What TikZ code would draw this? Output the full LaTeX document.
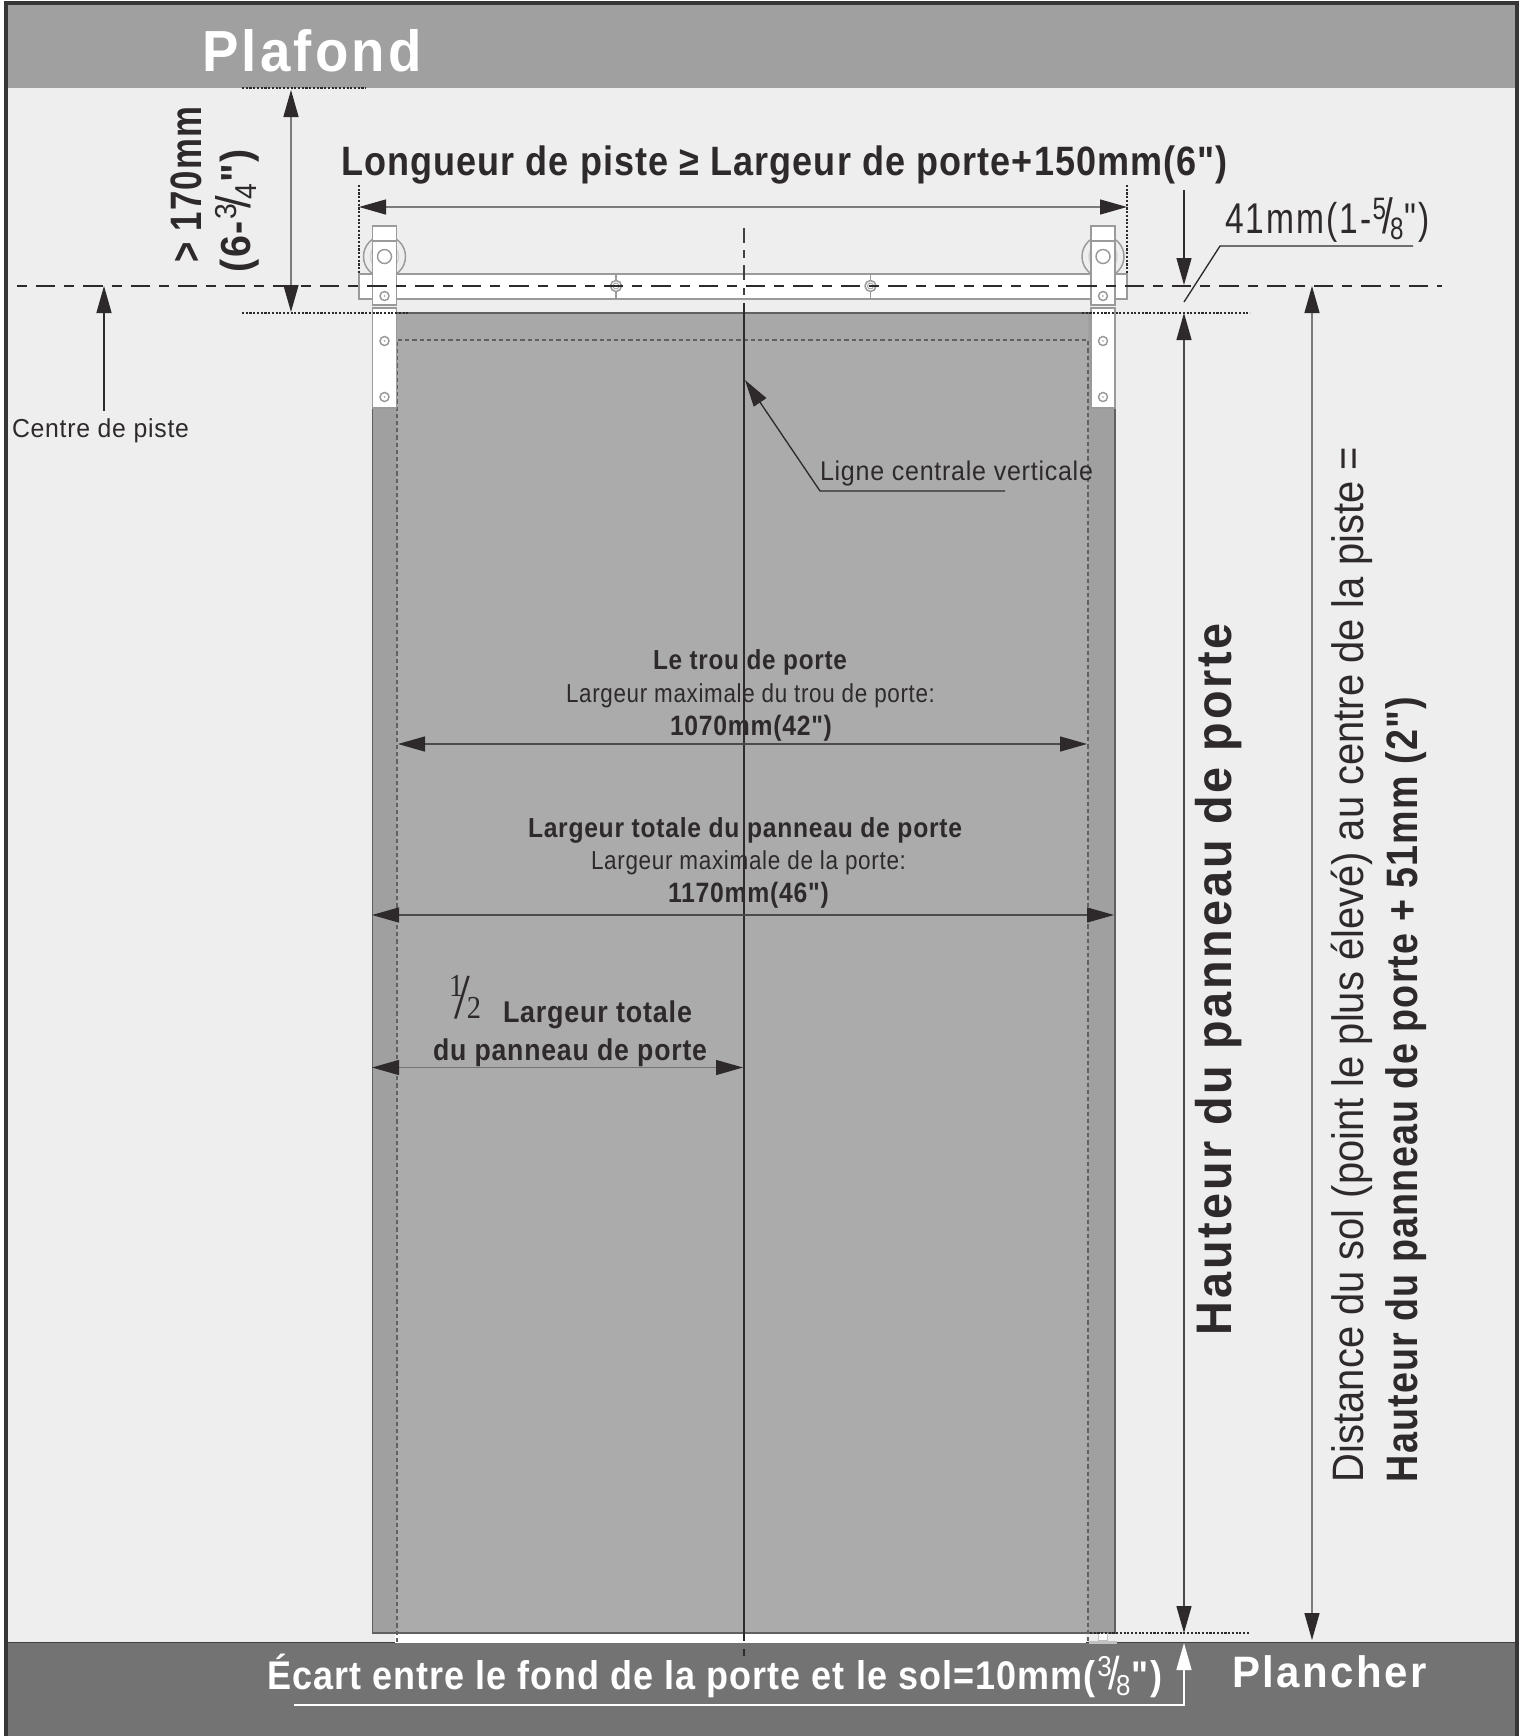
\documentclass[tikz,border=0pt]{standalone}
\usepackage{graphicx}
\usepackage{fontspec}
\newfontfamily\mainf[LetterSpace=3]{Liberation Sans}
\newfontfamily\widef[LetterSpace=6]{Liberation Sans}
\newfontfamily\plainf{Liberation Sans}
\newfontfamily\serifnum{Liberation Serif}
\usetikzlibrary{arrows.meta}
\definecolor{ink}{HTML}{2E2A2B}
\definecolor{midline}{HTML}{7D7A7A}
\definecolor{hw}{HTML}{9A9A9A}
\definecolor{room}{HTML}{EEEEEE}
\definecolor{ceil}{HTML}{A0A0A0}
\definecolor{floorc}{HTML}{737373}
\definecolor{doorc}{HTML}{ABABAB}
\definecolor{doorside}{HTML}{A0A0A0}
\newcommand\fsz[1]{\pgfmathsetmacro\fszv{#1*0.75}\fontsize{\fszv pt}{\fszv pt}\mainf\selectfont}
\newcommand\fitw[2]{\setbox0=\hbox{#2}\pgfmathsetmacro\fitr{#1*0.75/\the\wd0}\scalebox{\fitr}[1]{\copy0}}
\newcommand\frc[2]{{\mdseries\kern.04em\raisebox{.32em}{\scalebox{.72}{#1}}\kern-.1em\scalebox{1.15}{/}\kern-.1em\raisebox{-.16em}{\scalebox{.72}{#2}}\kern.04em}}
\newcommand\tx[6][]{\node[txt,#1] (#2) at #3 {\fsz{#4}\fitw{#5}{#6}};}
\tikzset{
  txt/.style={inner sep=0pt,outer sep=0pt,anchor=base west,text=ink},
  dim/.style={line width=1pt,draw=#1,{Triangle[length=20.25pt,width=11.25pt,color=ink]}-{Triangle[length=20.25pt,width=11.25pt,color=ink]}},
  dimend/.style={line width=1pt,draw=#1,-{Triangle[length=20.25pt,width=11.25pt,color=ink]}},
  guide/.style={ink,line width=1.1pt,dash pattern=on 1.6pt off 1.2pt},
  innerdash/.style={draw=black!62,line width=1.2pt,dash pattern=on 3.2pt off 2.2pt},
  hwline/.style={draw=hw,line width=1.1pt},
  bolt/.style={draw=hw,line width=1.1pt,fill=white}
}
\begin{document}
\begin{tikzpicture}[x=0.75pt,y=-0.75pt]
\clip (0,0) rectangle (1521,1736);
% room, ceiling, floor
\fill[white] (0,0) rectangle (1521,1736);
\fill[room] (6,3) rectangle (1517,1740);
\fill[ceil] (6,3) rectangle (1517,88);
\fill[floorc] (6,1643) rectangle (1517,1740);
\draw[ink!90,line width=1.2pt] (6,1642.5) -- (395,1642.5);
\draw[ink!90,line width=1.2pt] (1086,1642.5) -- (1517,1642.5);
\draw[ink!95,line width=3pt] (6,3) rectangle (1517,1745);
% door
\fill[white] (395,1633) rectangle (1086,1642.5);
\fill[doorside] (372.5,313) rectangle (1115,1633);
\fill[doorc!98!black] (397,313) rectangle (1088,340);
\fill[doorc] (397,340) rectangle (1088,1633);
\draw[ink!75,line width=1pt] (372.5,408) -- (372.5,1633) -- (1115,1633) -- (1115,313) -- (372.5,313);
% floor guide
\fill[white,draw=hw!60,line width=.6pt] (1098,1633) rectangle (1107,1640);
\fill[hw!60] (1089,1641) rectangle (1117,1643.5);
% inner opening
\draw[innerdash] (396.7,1642) -- (396.7,340) -- (1088,340) -- (1088,1642);
% wheels
\foreach \c in {384.5,1103}{
  \draw[hwline,fill=room] (\c,256.5) circle[radius=21];
  \draw[draw=hw!45,line width=1pt] (\c,256.5) circle[radius=14];
}
% track
\draw[hwline,fill=white] (359,274) rectangle (1127,299);
\foreach \c in {616,870.5}{
  \draw[hw,line width=.8pt] (\c,274) -- (\c,299);
}
% hangers
\foreach \l/\r/\c in {372.5/396.5/384.5,1091/1115/1103}{
  \draw[hwline,fill=white] (\l,226) rectangle (\r,305);
  \draw[hwline] (\l,241) -- (\r,241);
  \draw[hwline,fill=white] (\l,308) rectangle (\r,408);
  \draw[bolt] (\c,256.5) circle[radius=7];
  \foreach \y in {296,341,397}{
    \draw[bolt] (\c,\y) circle[radius=4.5];
    \fill[hw] (\c,\y) circle[radius=.8];
  }
}
\foreach \c in {616,870.5}{
  \draw[bolt] (\c,286) circle[radius=5.5];
  \draw[hw,line width=.6pt] (\c,286) circle[radius=3];
}
% centre lines
\coordinate (hL) at (17,286);
\coordinate (hR) at (1442,286);
\draw[ink,line width=1.2pt,dash pattern=on 7.5pt off 6.7pt on 14.5pt off 6.8pt] (hL) -- (hR);
\coordinate (vA) at (743.7,228);
\coordinate (vB) at (743.7,303);
\coordinate (vC) at (743.7,1641);
\coordinate (vD) at (743.7,1649);
\coordinate (vE) at (743.7,1656);
\draw[ink!90,line width=1.3pt,dash pattern=on 11.25pt off 5.6pt on 5.6pt off 5.6pt] (vA) -- (vB);
\draw[ink,line width=1.3pt] (vB) -- (vC);
\draw[ink,line width=1.3pt] (vD) -- (vE);
% dotted guides
\coordinate (gA1) at (359,185); \coordinate (gA2) at (359,274);
\coordinate (gB1) at (1127,185); \coordinate (gB2) at (1127,274);
\draw[guide] (gA1) -- (gA2);
\draw[guide] (gB1) -- (gB2);
\coordinate (gC1) at (242,88); \coordinate (gC2) at (366,88);
\coordinate (gD1) at (242,313); \coordinate (gD2) at (408,313);
\coordinate (gE1) at (1082,313); \coordinate (gE2) at (1250,313);
\coordinate (gF1) at (1090,1633); \coordinate (gF2) at (1250,1633);
\draw[guide] (gC1) -- (gC2);
\draw[guide] (gD1) -- (gD2);
\draw[guide] (gE1) -- (gE2);
\draw[guide] (gF1) -- (gF2);
% dimension arrows
\coordinate (a1) at (359,207); \coordinate (a2) at (1127,207);
\draw[dim=midline] (a1) -- (a2);
\coordinate (b1) at (291,90); \coordinate (b2) at (291,312);
\draw[dim=midline] (b1) -- (b2);
\coordinate (c1) at (104,411); \coordinate (c2) at (104,286);
\draw[dimend=ink] (c1) -- (c2);
\coordinate (d0) at (1184,190); \coordinate (d1) at (1184,285);
\draw[dimend=ink] (d0) -- (d1);
\coordinate (d2) at (1184,313); \coordinate (d3) at (1184,1633);
\draw[dim=ink!85] (d2) -- (d3);
\coordinate (l1) at (1184,302); \coordinate (l2) at (1220,246); \coordinate (l3) at (1413,246);
\draw[ink,line width=1pt] (l1) -- (l2) -- (l3);
\coordinate (e1) at (1312,286); \coordinate (e2) at (1312,1640);
\draw[dim=midline] (e1) -- (e2);
\coordinate (f1) at (294,1705); \coordinate (f2) at (1184,1705); \coordinate (f3) at (1184,1643);
\draw[white,line width=1.1pt,-{Triangle[length=20.25pt,width=11.25pt,color=white]}] (f1) -- (f2) -- (f3);
\coordinate (g1) at (1005,491); \coordinate (g2) at (820,491); \coordinate (g3) at (745,380);
\draw[dimend=ink] (g1) -- (g2) -- (g3);
\coordinate (h1) at (398,744); \coordinate (h2) at (1087,744);
\draw[dim=ink!85] (h1) -- (h2);
\coordinate (i1) at (372,915); \coordinate (i2) at (1114,915);
\draw[dim=ink!85] (i1) -- (i2);
\coordinate (j1) at (372,1067.5); \coordinate (j2) at (743,1067.5);
\draw[dim=black!55] (j1) -- (j2);
% texts
\tx[text=white,font=\bfseries]{tPlafond}{(202,71)}{58}{220}{\widef\selectfont Plafond}
\tx[rotate=90,font=\bfseries]{tMin}{(201,262)}{44}{155}{> 170mm}
\tx[rotate=90,font=\bfseries]{tMinIn}{(250,272)}{42}{123}{(6-\frc{3}{4}")}
\tx[font=\bfseries]{tLong}{(341,175)}{41}{887}{Longueur de piste ≥ Largeur de porte+150mm(6")}
\tx{tOff}{(1225,233)}{43}{205}{\widef\selectfont 41mm(1-\frc{5}{8}")}
\tx{tCentre}{(12,437)}{26}{177}{Centre de piste}
\tx{tLigne}{(820,480)}{27}{273}{Ligne centrale verticale}
\tx[font=\bfseries]{tTrou}{(653,669)}{27.5}{194}{Le trou de porte}
\tx{tTrouMax}{(566,702)}{26}{369}{Largeur maximale du trou de porte:}
\tx[font=\bfseries]{tTrouV}{(670,735)}{28}{162}{1070mm(42")}
\tx[font=\bfseries]{tTot}{(528,837)}{27.5}{434}{Largeur totale du panneau de porte}
\tx{tTotMax}{(591,869)}{26}{315}{Largeur maximale de la porte:}
\tx[font=\bfseries]{tTotV}{(668,902)}{28}{161}{1170mm(46")}
\tx{tHalf}{(449,1018)}{32}{32}{\serifnum\raisebox{.68em}{1}\kern-.31em\scalebox{2}{/}\kern-.12em 2}
\tx[font=\bfseries]{tDemi1}{(503,1022)}{30}{189}{Largeur totale}
\tx[font=\bfseries]{tDemi2}{(433,1060)}{30}{274}{du panneau de porte}
\tx[rotate=90,font=\bfseries]{tHaut}{(1231.5,1335)}{50}{712}{\widef\selectfont Hauteur du panneau de porte}
\tx[rotate=90]{tDist1}{(1363,1482)}{44}{1035}{\plainf\selectfont Distance du sol (point le plus élevé) au centre de la piste =}
\tx[rotate=90,font=\bfseries]{tDist2}{(1417,1482)}{44}{785}{Hauteur du panneau de porte + 51mm (2")}
\tx[text=white,font=\bfseries]{tEcart}{(267,1689)}{40}{895}{Écart entre le fond de la porte et le sol=10mm(\frc{3}{8}")}
\tx[text=white,font=\bfseries]{tPlancher}{(1232,1687)}{44}{195}{\widef\selectfont Plancher}
\end{tikzpicture}
\end{document}
